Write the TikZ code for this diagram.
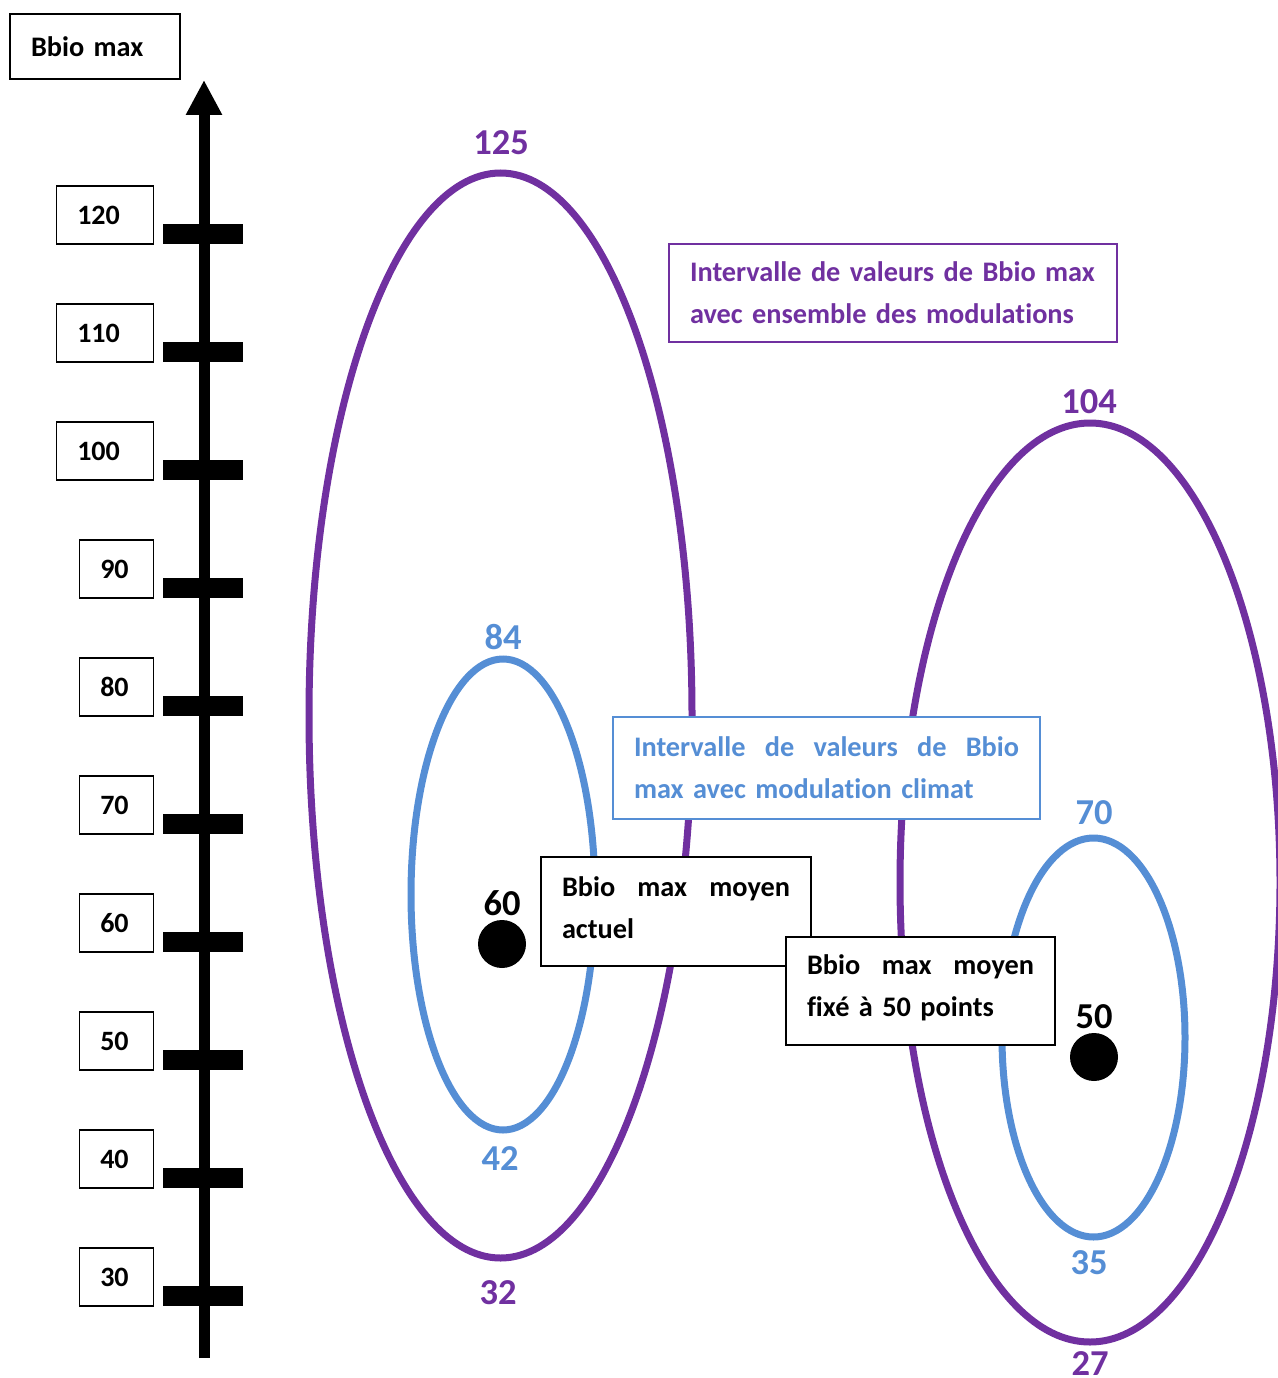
\documentclass[tikz,border=0pt]{standalone}
\usepackage{fontspec}
\setmainfont{Carlito}[RawFeature=-liga]
\usetikzlibrary{arrows.meta}
\definecolor{vpurple}{HTML}{7030A0}
\definecolor{vblue}{HTML}{558ED5}
\begin{document}
\begin{tikzpicture}[x=1pt,y=-1pt,
  tickbar/.style={fill=black, minimum width=80pt, minimum height=20pt, inner sep=0pt},
  boxfont/.style={font=\fontsize{28.3}{42}\selectfont\bfseries},
  numbox/.style={draw, line width=1.5pt, fill=white, font=\fontsize{28}{42}\selectfont\bfseries,
     inner xsep=21pt, inner ysep=0pt, minimum height=58pt, align=left},
  biglab/.style={font=\fontsize{36.5}{40}\selectfont\bfseries, inner sep=0pt},
  infobox/.style={draw, line width=1.5pt, fill=white, boxfont, inner xsep=21pt, inner ysep=0pt, align=left},
  dot/.style={circle, fill=black, minimum size=48pt, inner sep=0pt},
  ring/.style={line width=7pt}
]
\useasboundingbox (0,0) rectangle (1277,1378);

% axis
\coordinate (axbot) at (204,1358);
\coordinate (axtop) at (204,80);
\draw[line width=11pt, -{Triangle[width=34pt,length=35pt]}] (axbot) -- (axtop);
\node[draw, line width=1.5pt, boxfont, text width=128pt, inner xsep=21pt, minimum height=65pt, align=left] (title) at (95,46.5) {Bbio max};

% ticks and labels
\foreach \v/\w in {120/97,110/97,100/97,90/74,80/74,70/74,60/74,50/74,40/74,30/74}{
  \pgfmathsetmacro{\ty}{234+(120-\v)*11.8}
  \node[tickbar] (t\v) at (203,\ty) {};
  \pgfmathsetmacro{\tw}{\w-42}
  \node[numbox, text width=\tw pt, anchor=east] (l\v) at (154,\ty-19) {\v};
}

% left ellipses
\draw[ring, vpurple] (500.5,715.5) ellipse [x radius=191.5, y radius=542.5];
\draw[ring, vblue] (503,894.5) ellipse [x radius=92, y radius=235.5];
% right ellipses
\draw[ring, vpurple] (1090,882.5) ellipse [x radius=190, y radius=459.5];
\draw[ring, vblue] (1093.5,1037.5) ellipse [x radius=91.5, y radius=199.5];

% labels
\node[biglab, vpurple] (p125) at (501,143) {125};
\node[biglab, vpurple] (p32) at (498,1293) {32};
\node[biglab, vblue] (b84) at (503,637) {84};
\node[biglab, vblue] (b42) at (500,1159) {42};
\node[biglab, vpurple] (p104) at (1089,402) {104};
\node[biglab, vpurple] (p27) at (1090,1364) {27};
\node[biglab, vblue] (b70) at (1094,813) {70};
\node[biglab, vblue] (b35) at (1089,1263) {35};
\node[biglab] (m60) at (502,903) {60};
\node[biglab] (m50) at (1094,1017) {50};

\node[dot] (d60) at (502,944) {};
\node[dot] (d50) at (1094,1057) {};

% info boxes
\node[infobox, draw=vpurple, text=vpurple, text width=406pt, minimum height=98pt] (ipurple) at (893,293)
  {Intervalle de valeurs de Bbio max\\avec ensemble des modulations};
\node[infobox, draw=vblue, text=vblue, text width=385pt, minimum height=102pt] (iblue) at (826.5,768)
  {\hbox to 385pt{Intervalle\hfill de\hfill valeurs\hfill de\hfill Bbio}\\max avec modulation climat};
\node[infobox, text width=228pt, minimum height=109pt] (iactuel) at (676,911.5)
  {\hbox to 228pt{Bbio\hfill max\hfill moyen}\\actuel\rule[-8pt]{0pt}{8pt}};
\node[infobox, text width=227pt, minimum height=108pt] (ifixe) at (920.5,991)
  {\hbox to 227pt{Bbio\hfill max\hfill moyen}\\fixé à 50 points\rule[-10pt]{0pt}{10pt}};
\end{tikzpicture}
\end{document}
